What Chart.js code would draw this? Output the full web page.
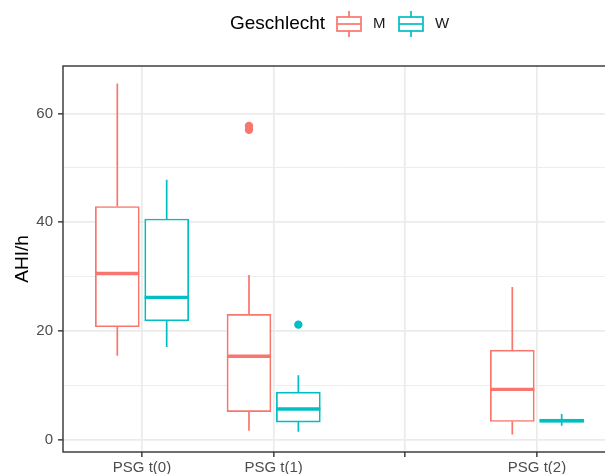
<!DOCTYPE html>
<html>
<head>
<meta charset="utf-8">
<script src="https://cdn.jsdelivr.net/npm/chart.js@4/dist/chart.umd.min.js"></script>
<style>
  html, body { margin: 0; padding: 0; background: #ffffff; overflow: hidden; }
  #wrap { width: 605px; height: 474px; overflow: hidden; }
</style>
</head>
<body>
<div id="wrap"><canvas id="c" width="640" height="474"></canvas></div>
<script>
// Tick labels of the time axis (third slot is an empty level)
const tickLabels = ['PSG t(0)', 'PSG t(1)', '', 'PSG t(2)'];
// Axis slot of each measured time point
const timeSlot = [0, 1, 3];
const groups = ['M', 'W'];

// AHI/h five-number summaries per time point, men
const minM = [15.5, 1.7, 1.0];
const q1M  = [20.8, 5.2, 3.4];
const medM = [30.6, 15.4, 9.3];
const q3M  = [42.9, 23.1, 16.5];
const maxM = [65.5, 30.3, 28.1];
const outM = [[], [57.0, 57.7], []];

// AHI/h five-number summaries per time point, women
const minW = [17.1, 1.5, 2.6];
const q1W  = [21.9, 3.3, 3.3];
const medW = [26.2, 5.7, 3.55];
const q3W  = [40.6, 8.8, 3.85];
const maxW = [47.8, 11.9, 4.8];
const outW = [[], [21.2], []];

const yTicks = [0, 10, 20, 30, 40, 50, 60];

const colM = '#F8766D';
const colW = '#00BFC4';
const dodge = 0.1875;
const LW = 1.7;
const FONT = '"Liberation Sans", Arial, Helvetica, sans-serif';

function boxData(q1, q3, off) {
  return timeSlot.map((s, i) => ({ x: s + off, y: [q1[i], q3[i]] }));
}
function outlierData(outs, off) {
  const pts = [];
  outs.forEach((arr, i) => arr.forEach(v => pts.push({ x: timeSlot[i] + off, y: v })));
  return pts;
}

const summaries = [
  { color: colM, off: -dodge, min: minM, med: medM, q1: q1M, q3: q3M, max: maxM },
  { color: colW, off: dodge, min: minW, med: medW, q1: q1W, q3: q3W, max: maxW }
];

// Whiskers, medians, panel border and the legend
const boxExtras = {
  id: 'boxExtras',
  beforeDatasetsDraw(chart) {
    const { ctx, chartArea: a, scales: { x, y } } = chart;
    ctx.save();
    ctx.beginPath();
    ctx.rect(a.left, a.top, a.right - a.left, a.bottom - a.top);
    ctx.clip();
    ctx.lineWidth = LW;
    summaries.forEach(s => {
      ctx.strokeStyle = s.color;
      timeSlot.forEach((slot, i) => {
        const px = x.getPixelForValue(slot + s.off);
        ctx.beginPath();
        ctx.moveTo(px, y.getPixelForValue(s.q3[i]));
        ctx.lineTo(px, y.getPixelForValue(s.max[i]));
        ctx.moveTo(px, y.getPixelForValue(s.q1[i]));
        ctx.lineTo(px, y.getPixelForValue(s.min[i]));
        ctx.stroke();
      });
    });
    ctx.restore();
  },
  afterDatasetsDraw(chart) {
    const { ctx, chartArea: a, scales: { y } } = chart;
    ctx.save();
    ctx.lineWidth = LW * 2;
    summaries.forEach((s, d) => {
      const meta = chart.getDatasetMeta(d);
      ctx.strokeStyle = s.color;
      meta.data.forEach((bar, i) => {
        const py = y.getPixelForValue(s.med[i]);
        ctx.beginPath();
        ctx.moveTo(bar.x - bar.width / 2, py);
        ctx.lineTo(bar.x + bar.width / 2, py);
        ctx.stroke();
      });
    });
    // panel border
    ctx.strokeStyle = '#333333';
    ctx.lineWidth = 1.4;
    ctx.strokeRect(a.left, a.top, a.right - a.left, a.bottom - a.top);
    ctx.restore();
  },
  afterDraw(chart) {
    const ctx = chart.ctx;
    const cy = 24;
    ctx.save();
    ctx.fillStyle = '#000000';
    ctx.textBaseline = 'middle';
    ctx.textAlign = 'left';
    ctx.font = '19px ' + FONT;
    ctx.fillText('Geschlecht', 230, cy);
    const keys = [
      { label: groups[0], color: colM, x: 337 },
      { label: groups[1], color: colW, x: 399 }
    ];
    keys.forEach(k => {
      const w = 24, top = cy - 7, bot = cy + 7, mid = k.x + w / 2;
      ctx.strokeStyle = k.color;
      ctx.lineWidth = LW;
      ctx.beginPath();
      ctx.moveTo(mid, top - 6); ctx.lineTo(mid, top);
      ctx.moveTo(mid, bot); ctx.lineTo(mid, bot + 6);
      ctx.stroke();
      ctx.strokeRect(k.x, top, w, bot - top);
      ctx.beginPath();
      ctx.moveTo(k.x, cy); ctx.lineTo(k.x + w, cy);
      ctx.stroke();
      ctx.fillStyle = '#1A1A1A';
      ctx.font = '15px ' + FONT;
      ctx.fillText(k.label, k.x + w + 12, cy);
    });
    ctx.restore();
  }
};

new Chart(document.getElementById('c'), {
  type: 'bar',
  data: {
    datasets: [
      {
        label: groups[0], data: boxData(q1M, q3M, -dodge),
        backgroundColor: '#FFFFFF', borderColor: colM, borderWidth: LW,
        borderSkipped: false, barThickness: 44, grouped: false
      },
      {
        label: groups[1], data: boxData(q1W, q3W, dodge),
        backgroundColor: '#FFFFFF', borderColor: colW, borderWidth: LW,
        borderSkipped: false, barThickness: 44, grouped: false
      },
      {
        type: 'scatter', label: groups[0] + ' outliers', data: outlierData(outM, -dodge),
        pointRadius: 4.2, pointBackgroundColor: colM, pointBorderWidth: 0
      },
      {
        type: 'scatter', label: groups[1] + ' outliers', data: outlierData(outW, dodge),
        pointRadius: 4.2, pointBackgroundColor: colW, pointBorderWidth: 0
      }
    ]
  },
  options: {
    responsive: false,
    animation: false,
    layout: { padding: { top: 66, right: 24, bottom: 0, left: 0 } },
    plugins: { legend: { display: false }, tooltip: { enabled: false } },
    scales: {
      x: {
        type: 'linear', min: -0.6, max: 3.6, offset: false,
        afterBuildTicks(s) { s.ticks = tickLabels.map((_, i) => ({ value: i })); },
        afterFit(s) { s.height = 22; },
        ticks: {
          callback: v => tickLabels[v] ?? '',
          color: '#4D4D4D', font: { family: FONT, size: 15 }, padding: 2,
          maxRotation: 0, autoSkip: false
        },
        grid: { offset: false, color: '#EBEBEB', lineWidth: 1.7, tickColor: '#333333', tickLength: 5, tickWidth: 1.4 },
        border: { display: false }
      },
      y: {
        type: 'linear', min: -2.2, max: 68.7,
        afterBuildTicks(s) { s.ticks = yTicks.map(v => ({ value: v })); },
        afterFit(s) { s.width = 63; },
        ticks: {
          callback: v => (v % 20 === 0 ? String(v) : ''),
          color: '#4D4D4D', font: { family: FONT, size: 15 }, padding: 5
        },
        grid: {
          color: '#EBEBEB',
          lineWidth: c => (c.tick && c.tick.value % 20 === 0 ? 1.7 : 0.9),
          tickColor: c => (c.tick && c.tick.value % 20 === 0 ? '#333333' : 'rgba(0,0,0,0)'),
          tickLength: 5, tickWidth: 1.4
        },
        border: { display: false },
        title: {
          display: true, text: 'AHI/h', color: '#000000',
          font: { family: FONT, size: 19 }, padding: { top: 11, bottom: 0 }
        }
      }
    }
  },
  plugins: [boxExtras]
});
</script>
</body>
</html>
